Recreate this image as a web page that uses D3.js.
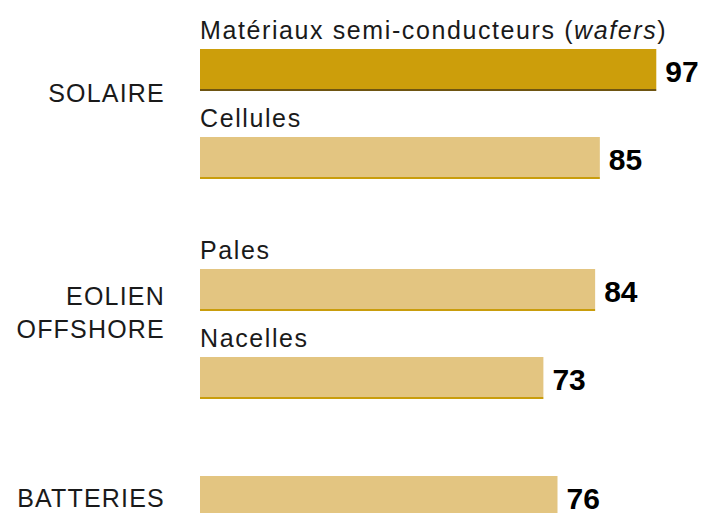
<!DOCTYPE html>
<html>
<head>
<meta charset="utf-8">
<script src="https://cdn.jsdelivr.net/npm/d3@7"></script>
<style>
  html, body { margin: 0; padding: 0; background: #fff; }
  svg { display: block; font-family: "Liberation Sans", Arial, sans-serif; }
</style>
</head>
<body>
<div id="chart"></div>
<script>
// Data
const groups = ['SOLAIRE', 'EOLIEN\nOFFSHORE', 'BATTERIES'];
const itemGroup = [0, 0, 1, 1, 2];
const itemLabels = ['Matériaux semi-conducteurs (wafers)', 'Cellules', 'Pales', 'Nacelles', ''];
const values = [97, 85, 84, 73, 76];
const highlighted = [true, false, false, false, false];

const width = 705, height = 513;

// layout
const barH = 40, lineH = 2;
const labelH = 46, emptyLabelH = 33;
const groupGap = 44;
const startY = 3;

const svg = d3.select('#chart')
  .append('svg')
  .attr('width', width)
  .attr('height', height);

const x = d3.scaleLinear()
  .domain([0, 100])
  .range([200, 670.4]);

// compute vertical positions cumulatively
const rows = [];
let cursor = startY;
values.forEach((v, i) => {
  if (i > 0 && itemGroup[i] !== itemGroup[i - 1]) cursor += groupGap;
  cursor += itemLabels[i] ? labelH : emptyLabelH;
  rows.push({ i, value: v, label: itemLabels[i], group: itemGroup[i], top: cursor, hi: highlighted[i] });
  cursor += barH + lineH;
});

// sub labels
svg.selectAll('.sub-label')
  .data(rows.filter(d => d.label))
  .enter()
  .append('text')
  .attr('class', 'sub-label')
  .attr('x', x(0))
  .attr('y', d => d.top - 10.5)
  .attr('font-size', '25px')
  .attr('letter-spacing', '1.6px')
  .attr('fill', '#1a1a1a')
  .each(function(d) {
    const t = d3.select(this);
    const m = d.label.match(/^(.*\()(wafers)(\))$/);
    if (m) {
      t.append('tspan').text(m[1]);
      t.append('tspan').attr('font-style', 'italic').text(m[2]);
      t.append('tspan').text(m[3]);
    } else {
      t.text(d.label);
    }
  });

// bars
svg.selectAll('.bar')
  .data(rows)
  .enter()
  .append('rect')
  .attr('class', 'bar')
  .attr('x', x(0))
  .attr('y', d => d.top)
  .attr('width', d => x(d.value) - x(0))
  .attr('height', barH)
  .attr('fill', d => d.hi ? '#cc9e0b' : '#e3c581');

// bottom accent lines
svg.selectAll('.bar-line')
  .data(rows)
  .enter()
  .append('rect')
  .attr('class', 'bar-line')
  .attr('x', x(0))
  .attr('y', d => d.top + barH)
  .attr('width', d => x(d.value) - x(0))
  .attr('height', lineH)
  .attr('fill', d => d.hi ? '#6e5512' : '#c99d0c');

// value labels
svg.selectAll('.value')
  .data(rows)
  .enter()
  .append('text')
  .attr('class', 'value')
  .attr('x', d => x(d.value) + 9)
  .attr('y', d => d.top + 33)
  .attr('font-size', '30px')
  .attr('font-weight', 'bold')
  .attr('fill', '#000')
  .text(d => d.value);

// group labels
const groupData = groups.map((g, gi) => {
  const r = rows.filter(d => d.group === gi);
  const center = r.length > 1 ? r[0].top + barH + 3 : r[0].top + (barH + lineH) / 2;
  return { lines: g.split('\n'), center };
});

const lineStep = 33.7;
svg.selectAll('.group-label')
  .data(groupData)
  .enter()
  .append('text')
  .attr('class', 'group-label')
  .attr('text-anchor', 'end')
  .attr('font-size', '25px')
  .attr('letter-spacing', '1.2px')
  .attr('fill', '#1a1a1a')
  .each(function(d) {
    const t = d3.select(this);
    const first = d.center + 9.5 - (d.lines.length - 1) * lineStep / 2;
    d.lines.forEach((l, k) => {
      t.append('tspan')
        .attr('x', 165)
        .attr('y', first + k * lineStep)
        .text(l);
    });
  });
</script>
</body>
</html>
